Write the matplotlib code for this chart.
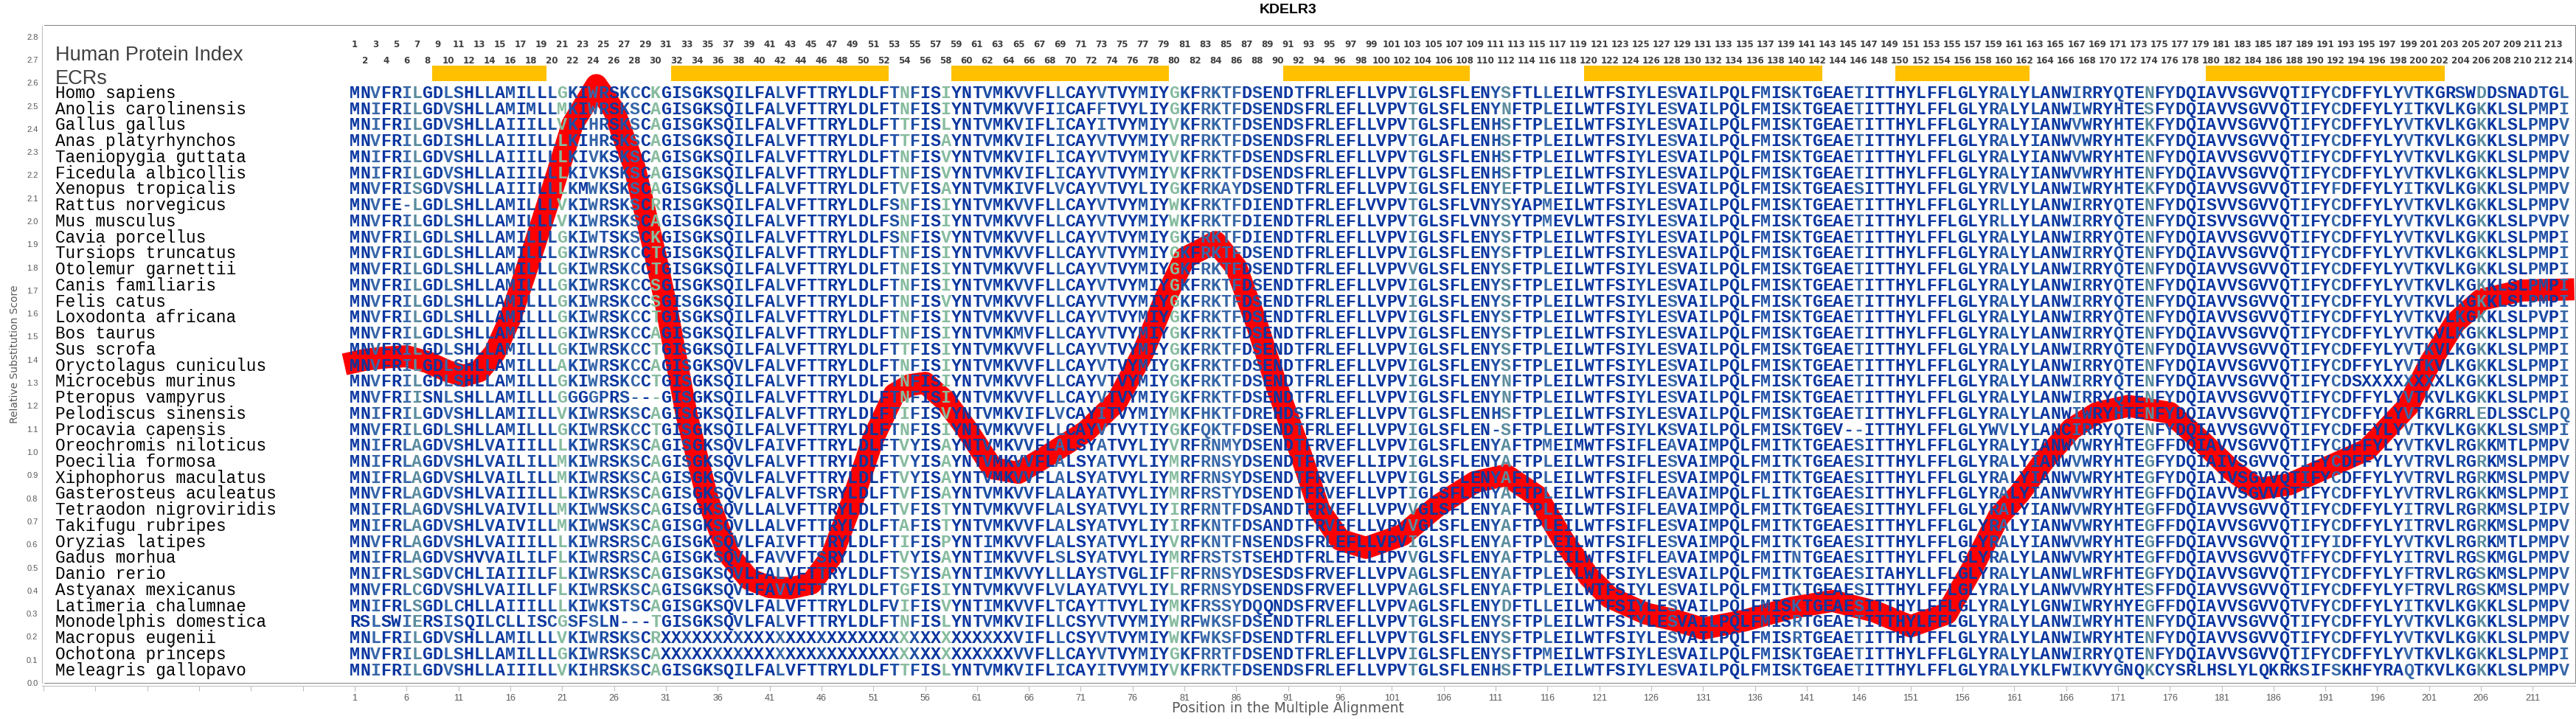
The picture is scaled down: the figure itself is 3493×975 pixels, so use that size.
import matplotlib
matplotlib.use('Agg')
import matplotlib.pyplot as plt
from matplotlib import font_manager
from matplotlib.patches import Rectangle

# ---- data ----
species = ['Homo sapiens', 'Anolis carolinensis', 'Gallus gallus', 'Anas platyrhynchos',
           'Taeniopygia guttata', 'Ficedula albicollis', 'Xenopus tropicalis', 'Rattus norvegicus',
           'Mus musculus', 'Cavia porcellus', 'Tursiops truncatus', 'Otolemur garnettii',
           'Canis familiaris', 'Felis catus', 'Loxodonta africana', 'Bos taurus', 'Sus scrofa',
           'Oryctolagus cuniculus', 'Microcebus murinus', 'Pteropus vampyrus', 'Pelodiscus sinensis',
           'Procavia capensis', 'Oreochromis niloticus', 'Poecilia formosa', 'Xiphophorus maculatus',
           'Gasterosteus aculeatus', 'Tetraodon nigroviridis', 'Takifugu rubripes', 'Oryzias latipes',
           'Gadus morhua', 'Danio rerio', 'Astyanax mexicanus', 'Latimeria chalumnae',
           'Monodelphis domestica', 'Macropus eugenii', 'Ochotona princeps', 'Meleagris gallopavo']

# alignment, written in blocks: 1-30 | 31-62 | 63-94 | 95-127 | 128-158 | 159-214
sequences = [
    'MNVFRILGDLSHLLAMILLLGKIWRSKCCK' 'GISGKSQILFALVFTTRYLDLFTNFISIYNTV' 'MKVVFLLCAYVTVYMIYGKFRKTFDSENDTFR'
    'LEFLLVPVIGLSFLENYSFTLLEILWTFSIYLE' 'SVAILPQLFMISKTGEAETITTHYLFFLGLY' 'RALYLANWIRRYQTENFYDQIAVVSGVVQTIFYCDFFYLYVTKGRSWDDSNADTGL',
    'MNIFRILGDVSHLLAMIMLLMKIWRSKSCA' 'GISGKSQILFALVFTTRYLDLFTNFISIYNTV' 'MKVVFIICAFFTVYLIYGKFRKTFDSENDSFR'
    'LEFLLVPVTGLSFLENYNFTPLEILWTFSIYLE' 'SVAILPQLFMISKTGEAETITTHYLFFLGLY' 'RALYLANWIWRYHTESFYDQIAVVSGVVQTIFYCDFFYLYITKVLKGKKLSLPMPI',
    'MNIFRILGDVSHLLAIIILLVKIHRSKSCA' 'GISGKSQILFALVFTTRYLDLFTTFISLYNTV' 'MKVIFLICAYITVYMIYVKFRKTFDSENDSFR'
    'LEFLLVPVTGLSFLENHSFTPLEILWTFSIYLE' 'SVAILPQLFMISKTGEAETITTHYLFFLGLY' 'RALYIANWVWRYHTEKFYDQIAVVSGVVQTIFYCDFFYLYVTKVLKGKKLSLPMPV',
    'MNVFRILGDISHLLAIIILLLKIHRSKSCA' 'GISGKSQILFALVFTTRYLDLFTTFISAYNTV' 'MKVIFLICAYVTVYMIYVRFRKTFDSENDSFR'
    'LEFLLVPVTGLAFLENHSFTPLEILWTFSIYLE' 'SVAILPQLFMISKTGEAETITTHYLFFLGLY' 'RALYIANWVWRYHTEKFYDQIAVVSGVVQTIFYCDFFYLYVTKVLKGKKLSLPMPV',
    'MNIFRILGDVSHLLAIIILLLKIVKSKSCA' 'GISGKSQILFALVFTTRYLDLFTNFISVYNTV' 'MKVIFLICAYVTVYMIYVKFRKTFDSENDSFR'
    'LEFLLVPVTGLSFLENHSFTPLEILWTFSIYLE' 'SVAILPQLFMISKTGEAETITTHYLFFLGLY' 'RALYIANWVWRYHTENFYDQIAVVSGVVQTIFYCDFFYLYVTKVLKGKKLSLPMPV',
    'MNIFRILGDVSHLLAIIILLLKIVKSKSCA' 'GISGKSQILFALVFTTRYLDLFTNFISVYNTV' 'MKVIFLICAYVTVYMIYVKFRKTFDSENDSFR'
    'LEFLLVPVTGLSFLENHSFTPLEILWTFSIYLE' 'SVAILPQLFMISKTGEAETITTHYLFFLGLY' 'RALYIANWVWRYHTENFYDQIAVVSGVVQTIFYCDFFYLYVTKVLKGKKLSLPMPV',
    'MNVFRISGDVSHLLAIIILLLKMWKSKSCA' 'GISGKSQLLFALVFTTRYLDLFTVFISAYNTV' 'MKIVFLVCAYVTVYLIYGKFRKAYDSENDTFR'
    'LEFLLVPVIGLSFLENYEFTPLEILWTFSIYLE' 'SVAILPQLFMISKTGEAESITTHYLFFLGLY' 'RVLYLANWIWRYHTEKFYDQIAVVSGVVQTIFYFDFFYLYITKVLKGKKLSLPMPV',
    'MNVFE-LGDLSHLLAMILLLVKIWRSKSCR' 'RISGKSQILFALVFTTRYLDLFSNFISIYNTV' 'MKVVFLLCAYVTVYMIYWKFRKTFDIENDTFR'
    'LEFLVVPVTGLSFLVNYSYAPMEILWTFSIYLE' 'SVAILPQLFMISKTGEAETITTHYLFFLGLY' 'RLLYLANWIRRYQTENFYDQISVVSGVVQTIFYCDFFYLYVTKVLKGKKLSLPMPV',
    'MNVFRILGDLSHLLAMILLLVKIWRSKSCA' 'GISGKSQILFALVFTTRYLDLFSNFISIYNTV' 'MKVVFLLCAYVTVYMIYWKFRKTFDIENDTFR'
    'LEFLLVPVTGLSFLVNYSYTPMEVLWTFSIYLE' 'SVAILPQLFMISKTGEAETITTHYLFFLGLY' 'RLLYLANWIRRYQTENFYDQISVVSGVVQTIFYCDFFYLYVTKVLKGKKLSLPVPV',
    'MNVFRILGDLSHLLAMILLLGKIWTSKSCK' 'GISGKSQILFALVFTTRYLDLFSNFISVYNTV' 'MKVVFLLCAYVTVYMIYGKFRKTFDIENDTFR'
    'LEFLLVPVIGLSFLENYSFTPLEILWTFSIYLE' 'SVAILPQLFMISKTGEAETITTHYLFFLGLY' 'RALYLANWIRRYQTENFYDQIAVVSGVVQTIFYCDFFYLYVTKVLKGKKLSLPMPI',
    'MNVFRILGDLSHLLAMILLLGKIWRSKCCT' 'GISGKSQILFALVFTTRYLDLFTNFISIYNTV' 'MKVVFLLCAYVTVYMIYGKFRKTFDSENDTFR'
    'LEFLLVPVIGLSFLENYSFTPLEILWTFSIYLE' 'SVAILPQLFMISKTGEAETITTHYLFFLGLY' 'RALYLANWIRRYQTENFYDQIAVVSGVVQTIFYCDFFYLYVTKVLKGKKLSLPMPI',
    'MNVFRILGDLSHLLAMILLLGKIWRSKCCT' 'GISGKSQILFALVFTTRYLDLFTNFISIYNTV' 'MKVVFLLCAYVTVYMIYGKFRKTFDSENDTFR'
    'LEFLLVPVVGLSFLENYSFTPLEILWTFSIYLE' 'SVAILPQLFMISKTGEAETITTHYLFFLGLY' 'RALYLANWIRRYQTENFYDQIAVVSGVVQTIFYCDFFYLYVTKVLKGKKLSLPMPI',
    'MNVFRILGDLSHLLAMILLLGKIWRSKCCS' 'GISGKSQILFALVFTTRYLDLFTNFISIYNTV' 'MKVVFLLCAYVTVYMIYGKFRKTFDSENDTFR'
    'LEFLLVPVIGLSFLENYSFTPLEILWTFSIYLE' 'SVAILPQLFMISKTGEAETITTHYLFFLGLY' 'RALYLANWIRRYQTENFYDQIAVVSGVVQTIFYCDFFYLYVTKVLKGKKLSLPMPI',
    'MNVFRILGDLSHLLAMILLLGKIWRSKCCS' 'GISGKSQILFALVFTTRYLDLFTNFISVYNTV' 'MKVVFLLCAYVTVYMIYGKFRKTFDSENDTFR'
    'LEFLLVPVIGLSFLENYSFTPLEILWTFSIYLE' 'SVAILPQLFMISKTGEAETITTHYLFFLGLY' 'RALYLANWIRRYQTENFYDQIAVVSGVVQTIFYCDFFYLYVTKVLKGKKLSLPMPI',
    'MNVFRILGDLSHLLAMILLLGKIWRSKCCT' 'GISGKSQILFALVFTTRYLDLFTNFISIYNTV' 'MKVVFLLCAYVTVYMIYGKFRKTFDSENDTFR'
    'LEFLLVPVIGLSFLENYSFTPLEILWTFSIYLE' 'SVAILPQLFMISKTGEAETITTHYLFFLGLY' 'RALYLANWIRRYQTENFYDQIAVVSGVVQTIFYCDFFYLYVTKVLKGKKLSLPVPI',
    'MNVFRILGDLSHLLAMILLLGKIWRSKCCA' 'GISGKSQILFALVFTTRYLDLFTNFISIYNTV' 'MKMVFLLCAYVTVYMIYGKFRKTFDSENDTFR'
    'LEFLLVPVIGLSFLENYSFTPLEILWTFSIYLE' 'SVAILPQLFMISKTGEAETITTHYLFFLGLY' 'RALYLANWIRRYQTENFYDQIAVVSGVVQTIFYCDFFYLYVTKVLKGKKLSLPMPI',
    'MNVFRILGDLSHLLAMILLLGKIWRSKCCT' 'GISGKSQILFALVFTTRYLDLFTTFISIYNTV' 'MKVVFLLCAYVTVYMIYGKFRKTFDSENDTFR'
    'LEFLLVPVIGLSFLENYSFTPLEILWTFSIYLE' 'SVAILPQLFMISKTGEAETITTHYLFFLGLY' 'RALYLANWIRRYQTENFYDQIAVVSGVVQTIFYCDFFYLYVTKVLKGKKLSLPMPI',
    'MNVFRILGDLSHLLAMILLLAKIWRSKCCA' 'GISGKSQVLFALVFTTRYLDLFTNFISIYNTV' 'MKVVFLLCAYVTVYMIYGKFRKTFDSENDTFR'
    'LEFLLVPVIGLSFLENYSFTPLEILWTFSIYLE' 'SVAILPQLFMISKTGEAETITTHYLFFLGLY' 'RALYLANWIRRYQTENFYDQIAVVSGVVQTIFYCDFFYLYVTKVLKGKKLSLPMPI',
    'MNVFRILGDLSHLLAMILLLGKIWRSKCCT' 'GISGKSQILFALVFTTRYLDLFTNFISIYNTV' 'MKVVFLLCAYVTVYMIYGKFRKTFDSENDTFR'
    'LEFLLVPVIGLSFLENYNFTPLEILWTFSIYLE' 'SVAILPQLFMISKTGEAETITTHYLFFLGLY' 'RALYLANWIRRYQTENFYDQIAVVSGVVQTIFYCDSXXXXXXXXLKGKKLSLPMPI',
    'MNVFRIISNLSHLLAMILLLGGGGPRS---' 'GISGKSQILFALVFTTRYLDLFTNFISIYNTV' 'MKVVFLLCAYVTVYMIYGKFRKTFDSENDTFR'
    'LEFLLVPVIGLSFLENYNFTPLEILWTFSIYLE' 'SVAILPQLFMISKTGEAETITTHYLFFLGLY' 'RALYLANWIRRYQTENFYDQIAVVSGVVQTIFYCDFFYLYVTKVLKGKKLSLPMPI',
    'MNIFRILGDVSHLLAMIILLVKIWRSKSCA' 'GISGKSQILFALVFTTRYLDLFTIFISVYNTV' 'MKVIFLVCAYITVYMIYMKFHKTFDREHDSFR'
    'LEFLLVPVTGLSFLENHSFTPLEILWTFSIYLE' 'SVAILPQLFMISKTGEAETITTHYLFFLGLY' 'RALYLANWIWRYHTENFYDQIAVVSGVVQTIFYCDFFYLYVTKGRRLEDLSSCLPQ',
    'MNVFRILGDLSHLLAMILLLGKIWRSKCCT' 'GISGKSQILFALVFTTRYLDLFTNFISIYNTV' 'MKVVFLLCAYVTVYTIYGKFQKTFDSENDTFR'
    'LEFLLVPVIGLSFLEN-SFTPLEILWTFSIYLK' 'SVAILPQLFMISKTGEV--ITTHYLFFLGLY' 'WVLYLANCIRRYQTENFYDQIAVVSGVVQTIFYCDFFYLYVTKVLKGKKLSLSMPI',
    'MNIFRLAGDVSHLVAIIILLLKIWRSKSCA' 'GISGKSQVLFAIVFTTRYLDLFTVYISAYNTV' 'MKVVFLALSYATVYLIYVRFRNMYDSENDTFR'
    'VEFLLVPVIGLSFLENYAFTPMEIMWTFSIFLE' 'AVAIMPQLFMITKTGEAESITTHYLFFLGLY' 'RALYIANWVWRYHTEGFFDQIAVVSGVVQTIFYCDFFYLYVTKVLRGKKMTLPMPV',
    'MNIFRLAGDVSHLVAILILLMKIWRSKSCA' 'GISGKSQVLFALVFTTRYLDLFTVYISAYNTV' 'MKVVFLALSYATVYLIYMRFRNSYDSENDTFR'
    'VEFLLIPVIGLSFLENYAFTPLEILWTFSIFLE' 'SVAIMPQLFMITKTGEAESITTHYLFFLGLY' 'RALYIANWVWRYHTEGFYDQIAIVSGVVQTIFYCDFFYLYVTRVLRGRKMSLPMPV',
    'MNIFRLAGDVSHLVAILILLMKIWRSKSCA' 'GISGKSQVLFALVFTTRYLDLFTVYISAYNTV' 'MKVVFLALSYATVYLIYMRFRNSYDSENDTFR'
    'VEFLLVPVIGLSFLENYAFTPLEILWTFSIFLE' 'SVAIMPQLFMITKTGEAESITTHYLFFLGLY' 'RALYIANWVWRYHTEGFYDQIAIVSGVVQTIFYCDFFYLYVTRVLRGRKMSLPMPV',
    'MNVFRLAGDVSHLVAIIILLLKIWRSKSCA' 'GISGKSQVLFALVFTSRYLDLFTVFISAYNTV' 'MKVVFLALAYATVYLIYMRFRSTYDSENDTFR'
    'VEFLLVPTIGLSFLENYAFTPLEILWTFSIFLE' 'AVAIMPQLFLITKTGEAESITTHYLFFLGLY' 'RALYIANWVWRYHTEGFFDQIAVVSGVVQTIFYCDFFYLYVTRVLRGKKMSLPMPI',
    'MNIFRLAGDVSHLVAIVILLMKIWWSKSCA' 'GISGKSQVLLALVFTTRYLDLFTVFISTYNTV' 'MKVVFLALSYATVYLIYIRFRNTFDSANDTFR'
    'VEFLLVPVVGLSFLENYAFTPLEILWTFSIFLE' 'AVAIMPQLFMITKTGEAESITTHYLFFLGLY' 'RALYIANWVWRYHTEGFFDQIAVVSGVVQTIFYCDFFYLYITRVLRGRKMSLPIPV',
    'MNIFRLAGDVSHLVAIVILLMKIWWSKSCA' 'GISGKSQVLLALVFTTRYLDLFTAFISTYNTV' 'MKVVFLALSYATVYLIYIRFKNTFDSANDTFR'
    'VEFLLVPVVGLSFLENYAFTPLEILWTFSIFLE' 'SVAIMPQLFMITKTGEAESITTHYLFFLGLY' 'RALYIANWVWRYHTEGFFDQIAVVSGVVQTIFYCDFFYLYITRVLRGRKMSLPMPV',
    'MNVFRLAGDVSHLVAIIILLLKIWRSRSCA' 'GISGKSQVLFAIVFTTRYLDLFTIFISPYNTI' 'MKVVFLALSYATVYLIYVRFKNTFNSENDSFR'
    'LEFLLVPVIGLSFLENYAFTPLEILWTFSIFLE' 'SVAIMPQLFMITKTGEAESITTHYLFFLGLY' 'RALYIANWVWRYHTEGFFDQIAVVSGVVQTIFYIDFFYLYVTKVLRGRKMTLPMPV',
    'MNIFRLAGDVSHVVAILILFLKIWRSRSCA' 'GISGKSQVLFAVVFTSRYLDLFTVYISAYNTI' 'MKVVFLSLSYATVYLIYMRFRSTSTSEHDTFR'
    'LEFLLIPVVGLSFLENYAFTPLEILWTFSIFLE' 'AVAIMPQLFMITNTGEAESITTHYLFFLGLY' 'RALYLANWVWRYHTEGFFDQIAVVSGVVQTFFYCDFFYLYITRVLRGSKMGLPMPV',
    'MNIFRLSGDVCHLIAIIILFLKIWRSKSCA' 'GISGKSQVLFALVFTTRYLDLFTSYISAYNTI' 'MKVVYLLLAYSTVGLIFFRFRNSYDSESDSFR'
    'VEFLLVPVAGLSFLENYAFTPLEILWTFSIYLE' 'SVAILPQLFMITKTGEAESITAHYLLFLGLY' 'RALYLANWLWRFHTEGFYDQIAVVSGVVQTIFYCDFFYLYFTRVLRGSKMSLPMPV',
    'MNVFRLCGDVSHLVAIILLFLKIWRSKSCA' 'GISGKSQVLFAVVFTTRYLDLFTGFISIYNTV' 'MKVVFLVLAYATVYLIYLRFRNSYDSENDSFR'
    'VEFLLVPVAGLSFLENYAFTPLEILWTFSIYLE' 'SVAILPQLFMITKTGEAESITTHYLFFLGLY' 'RALYLANWVWRYHTESFFDQIAVVSGVVQTIFYCDFFYLYFTRVLRGSKMSLPMPV',
    'MNIFRLSGDLCHLLAIIILLLKIWKSTSCA' 'GISGKSQVLFALVFTTRYLDLFVIFISVYNTI' 'MKVVFLTCAYTTVYLIYMKFRSSYDQQNDSFR'
    'VEFLLVPVAGLSFLENYDFTLLEILWTFSIYLE' 'SVAILPQLFMISKTGEAESITTHYLFFLGLY' 'RALYLGNWIWRYHYEGFFDQIAVVSGVVQTVFYCDFFYLYITKVLKGKKLSLPMPV',
    'RSLSWIERSISQILCLLISCGSFSLN---T' 'GISGKSQVLFALVFTTRYLDLFTNFISLYNTV' 'MKVIFLLCSYVTVYMIYWRFWKSFDSENDTFR'
    'LEFLLVPVTGLSFLENYSFTPLEILWTFSIYLE' 'SVAILPQLFMISRTGEAETITTHYLFFLGLY' 'RALYLANWIWRYHTENFYDQIAVVSGVVQTIFYCDFFYLYVTKVLKGKKLSLPMPV',
    'MNLFRILGDVSHLLAMILLLVKIWRSKSCR' 'XXXXXXXXXXXXXXXXXXXXXXXXXXXXXXXX' 'XXVIFLLCSYVTVYMIYWKFWKSFDSENDTFR'
    'LEFLLVPVTGLSFLENYSFTPLEILWTFSIYLE' 'SVAILPQLFMISRTGEAETITTHYLFFLGLY' 'RALYLANWIWRYHTENFYDQIAVVSGVVQTIFYCDFFYLYVTKVLKGKKLSLPMPV',
    'MNVFRILGDLSHLLAMILLLGKIWRSKSCA' 'XXXXXXXXXXXXXXXXXXXXXXXXXXXXXXXX' 'XXVVFLLCAYVTVYMIYGKFRRTFDSENDTFR'
    'LEFLLVPVIGLSFLENYSFTPMEILWTFSIYLE' 'SVAILPQLFMISKTGEAETITTHYLFFLGLY' 'RALYLANWIRRYQTENFYDQIAVVSGVVQTIFYCDFFYLYVTKVLKGKKLSLPMPI',
    'MNIFRILGDVSHLLAIIILLVKIHRSKSCA' 'GISGKSQILFALVFTTRYLDLFTTFISLYNTV' 'MKVIFLICAYITVYMIYVKFRKTFDSENDSFR'
    'LEFLLVPVTGLSFLENHSFTPLEILWTFSIYLE' 'SVAILPQLFMISKTGEAETITTHYLFFLGLY' 'RALYKLFWIKVYGNQKCYSRLHSLYLQKRKSIFSKHFYRAQTKVLKGKKLSLPMPV',
]
n_pos = 214

# colour class of every alignment column (0 = most conserved ... 4 = least), ten columns per block
column_class = ('0020023002' '1001010101' '4102101204' '0010010100' '0200010000'
                '0014100400' '0100110020' '0020001004' '1022220100' '0100100000'
                '0030000000' '1300020000' '0000100200' '0100001002' '0000020000'
                '0000000012' '0010002100' '1003010000' '0000000010' '0200000020'
                '1001030100' '1102')
class_colors = ['#0a36a0', '#1d4ea5', '#3767a8', '#5b8c9e', '#86bb9e']

# conserved regions (first and last alignment column)
ecr_first = [9, 32, 59, 91, 120, 150, 180]
ecr_last = [19, 52, 79, 108, 142, 162, 202]

# relative substitution score
line_pos = [0, 2, 4, 6, 8, 10, 11.5, 13, 14.5, 16, 18, 20, 22, 24.3, 26, 28, 30, 31, 33, 35, 37, 39,
            41, 43, 45, 47, 49, 51, 53, 54.5, 56, 58, 60, 62.5, 65, 68, 71.5, 74.5, 77, 79, 81, 84,
            86, 88, 90, 92, 94, 96, 98.5, 102, 105.5, 109, 112, 115, 117.5, 120, 122, 125.5, 128,
            131, 135, 139.5, 143.5, 147.5, 151, 154.5, 157, 159.5, 161.5, 164, 166.5, 169, 172,
            176, 179, 182, 184.5, 187.5, 191.5, 195, 199, 201, 203.5, 206, 210, 215]
line_score = [1.38, 1.40, 1.41, 1.415, 1.39, 1.35, 1.33, 1.35, 1.43, 1.58, 1.85, 2.13, 2.42, 2.59,
              2.48, 2.23, 1.85, 1.64, 1.16, 0.80, 0.56, 0.45, 0.415, 0.41, 0.43, 0.55, 0.79, 1.06,
              1.25, 1.29, 1.30, 1.22, 1.10, 0.93, 0.91, 0.99, 1.09, 1.22, 1.43, 1.65, 1.84, 1.91,
              1.80, 1.55, 1.27, 1.02, 0.75, 0.62, 0.585, 0.64, 0.77, 0.87, 0.90, 0.81, 0.62, 0.46,
              0.37, 0.30, 0.275, 0.235, 0.27, 0.325, 0.355, 0.31, 0.245, 0.30, 0.50, 0.72, 0.82,
              0.97, 1.10, 1.17, 1.20, 1.17, 1.05, 0.92, 0.84, 0.86, 0.94, 1.01, 1.20, 1.38, 1.56,
              1.66, 1.70, 1.705]

for i, s in enumerate(sequences):
    if len(s) != n_pos:
        print('length mismatch', species[i], len(s))
        sequences[i] = (s + ' ' * n_pos)[:n_pos]
column_class = (column_class + '0' * n_pos)[:n_pos]

# ---- fonts ----
installed = {f.name for f in font_manager.fontManager.ttflist}
mono = 'Liberation Mono' if 'Liberation Mono' in installed else 'DejaVu Sans Mono'
sans = 'Liberation Sans' if 'Liberation Sans' in installed else 'DejaVu Sans'
narrow = 'Liberation Sans Narrow' if 'Liberation Sans Narrow' in installed else None

# ---- layout (pixel geometry of the reference) ----
W, H = 3493, 975
ax_l, ax_r, ax_t, ax_b = 57, 3492, 35, 926
px_pos = 14.064          # pixels per alignment column
x_one = 481              # pixel of column 1
px_unit = 313.0          # pixels per 1.0 score

fig = plt.figure(figsize=(W / 100, H / 100), dpi=100)
ax = fig.add_axes([ax_l / W, 1 - ax_b / H, (ax_r - ax_l) / W, (ax_b - ax_t) / H])
ax.set_xlim(1 - (x_one - ax_l) / px_pos, 1 + (ax_r - x_one) / px_pos)
ax.set_ylim(0, (ax_b - ax_t) / px_unit)

def y_of(px):
    return (ax_b - px) / px_unit

def x_of(px):
    return 1 + (px - x_one) / px_pos

# plot-area border
fig.add_artist(Rectangle((61 / W, 1 - ax_b / H), (ax_r - 61) / W, (ax_b - ax_t) / H,
                         transform=fig.transFigure, fill=False, edgecolor='#868686', lw=1.5, zorder=0))

# sequences
row_px = [124 + i * 21.74 for i in range(len(species))]
for i, (name, seq) in enumerate(zip(species, sequences)):
    y = y_of(row_px[i])
    ax.text(x_of(75), y, name, family=mono, fontsize=16.3, color='black',
            ha='left', va='center_baseline', zorder=5)
    for j, ch in enumerate(seq):
        ax.text(j + 1, y, ch, family=mono, fontsize=16.8, fontweight='bold',
                color=class_colors[int(column_class[j])],
                ha='center', va='center_baseline', zorder=5)

# red substitution curve (drawn under the letters)
ax.plot(line_pos, line_score, color='#ff0000', lw=21.5, solid_joinstyle='round',
        solid_capstyle='butt', zorder=3)

# human protein index
num_kw = dict(fontsize=11, fontweight='bold', color='#404040', ha='center', va='center_baseline', zorder=5)
if narrow:
    num_kw['family'] = narrow
else:
    num_kw.update(family='DejaVu Sans', fontsize=8.6)
for k in range(1, n_pos + 1):
    ax.text(k, y_of(59.5 if k % 2 else 81), str(k), **num_kw)

ax.text(x_of(75), y_of(71.5), 'Human Protein Index', family=sans, fontsize=19.5, color='#404040',
        ha='left', va='center_baseline')
ax.text(x_of(75), y_of(104.5), 'ECRs', family=sans, fontsize=19.5, color='#404040',
        ha='left', va='center_baseline')

# ECR bars
ecr_left = [a - 0.5 for a in ecr_first]
ecr_width = [b - a + 1 for a, b in zip(ecr_first, ecr_last)]
ax.bar(ecr_left, [y_of(89.3) - y_of(110)] * len(ecr_left), width=ecr_width, bottom=y_of(110),
       align='edge', color='#ffc000', zorder=2)

# axes styling
for side in ['top', 'right']:
    ax.spines[side].set_visible(False)
ax.spines['left'].set_color('#bfbfbf')
ax.spines['bottom'].set_color('#bfbfbf')
ax.spines['bottom'].set_position(('outward', 3))
ax.set_yticks([k / 10 for k in range(29)])
ax.set_yticklabels(['%.1f' % (k / 10) for k in range(29)])
xt = list(range(-29, 215, 5))
ax.set_xticks(xt)
ax.set_xticklabels([str(v) if v >= 1 else '' for v in xt])
tick_family = narrow if narrow else sans
ax.tick_params(axis='y', length=0, pad=4, labelsize=9.5 if narrow else 8, labelcolor='#595959')
ax.tick_params(axis='x', length=5, color='#bfbfbf', pad=3, labelsize=10.5 if narrow else 9, labelcolor='#595959')
for lab in ax.get_xticklabels() + ax.get_yticklabels():
    lab.set_family(tick_family)

fig.text(20 / W, 1 - 480 / H, 'Relative Substitution Score', rotation=90, family='DejaVu Sans',
         fontsize=10, color='#595959', ha='center', va='center')
fig.text(0.5, 1 - 961 / H, 'Position in the Multiple Alignment', family='DejaVu Sans', fontsize=13.5,
         color='#595959', ha='center', va='center')
fig.text(0.5, 1 - 14 / H, 'KDELR3', family=sans, fontsize=14, fontweight='bold', color='black',
         ha='center', va='center')

fig.savefig('out.png', dpi=100)
